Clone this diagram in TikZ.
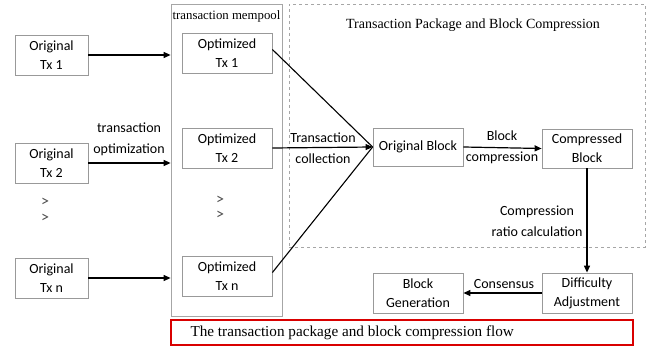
\documentclass[tikz,border=0pt]{standalone}
\usepackage{fontspec}
\setmainfont{Carlito}
\newfontfamily\tnr{Liberation Serif}
\usetikzlibrary{arrows.meta}
\begin{document}
\begin{tikzpicture}[x=1pt,y=-1pt,
  box/.style={draw=gray!80,line width=0.8pt,minimum width=#1,minimum height=40pt,align=center,font=\fontsize{14}{19}\selectfont,inner sep=1pt},
  box/.default=73pt,
  arr/.style={-{Triangle[length=7pt,width=6pt]},line width=1.2pt},
  ln/.style={line width=1.1pt},
  dots/.style={font=\fontsize{16}{15.5}\selectfont,gray!60!black,inner sep=0pt,align=center},
  lbl/.style={font=\fontsize{14}{21}\selectfont,align=center,inner sep=1pt}]
\useasboundingbox (0,0) rectangle (652,347);
% containers
\node[draw=gray!70,line width=0.8pt,minimum width=111pt,minimum height=312pt,inner sep=0pt] (pool) at (226.5,160) {};
\node[font=\tnr\fontsize{12.8}{13}\selectfont] (pooltitle) at (226.5,16) {transaction mempool};
\node[draw=gray!70,dashed,line width=0.6pt,minimum width=356pt,minimum height=243pt,inner sep=0pt] (tpbc) at (467,125.5) {};
\node[font=\tnr\fontsize{14}{15}\selectfont] (tpbctitle) at (473,25) {Transaction Package and Block Compression};
% left column
\node[box] (o1) at (51.5,55) {Original\\Tx 1};
\node[box] (o2) at (51.5,163) {Original\\Tx 2};
\node[box] (on) at (51.5,278) {Original\\Tx n};
% mempool
\node[box=90pt] (p1) at (227,53.5) {Optimized\\Tx 1};
\node[box=90pt] (p2) at (227,148) {Optimized\\Tx 2};
\node[box=90pt] (pn) at (227,276.5) {Optimized\\Tx n};
% dots
\node[dots] (d1) at (45,210.5) {>\\>};
\node[dots] (d2) at (220,208) {>\\>};
% blocks
\node[box=90pt,minimum height=38pt] (ob) at (418,147) {Original Block};
\node[box=90pt,minimum height=39pt] (cb) at (587,148.5) {Compressed\\Block};
\node[box=90pt] (da) at (587,293) {Difficulty\\Adjustment};
\node[box=90pt] (bg) at (418,293) {Block\\Generation};
% caption
\node[draw=red!85!black,line width=1.2pt,minimum width=462pt,minimum height=25pt,inner sep=0pt] (cap) at (402,332.5) {};
\node[font=\tnr\fontsize{15.2}{16}\selectfont,anchor=west] (captext) at (187,332.5) {The transaction package and block compression flow};
% arrows
\coordinate (pl1) at (pool.west |- o1.east);
\coordinate (pl2) at (pool.west |- o2.east);
\coordinate (pln) at (pool.west |- on.east);
\draw[arr] (o1.east) -- (pl1);
\draw[arr] (o2.east) -- (pl2);
\draw[arr] (on.east) -- (pln);
\node[lbl] (optlbl) at (129,139) {transaction\\optimization};
\coordinate (p1e) at ([yshift=4pt]p1.east);
\coordinate (pne) at ([yshift=4pt]pn.east);
\draw[ln] (p1e) -- (ob.west);
\draw[arr] (p2.east) -- (ob.west);
\draw[ln] (pne) -- (ob.west);
\node[lbl] (tclbl) at (323,148) {Transaction\\collection};
\draw[arr] (ob.east) -- (cb.west);
\node[lbl] (bc1) at (502,136) {Block};
\node[lbl] (bc2) at (502,158) {compression};
\draw[arr] (cb.south) -- (da.north);
\node[lbl] (crlbl) at (537,221) {Compression\\ratio calculation};
\draw[arr] (da.west) -- (bg.east);
\node[lbl] (conlbl) at (504,284) {Consensus};
\end{tikzpicture}
\end{document}
